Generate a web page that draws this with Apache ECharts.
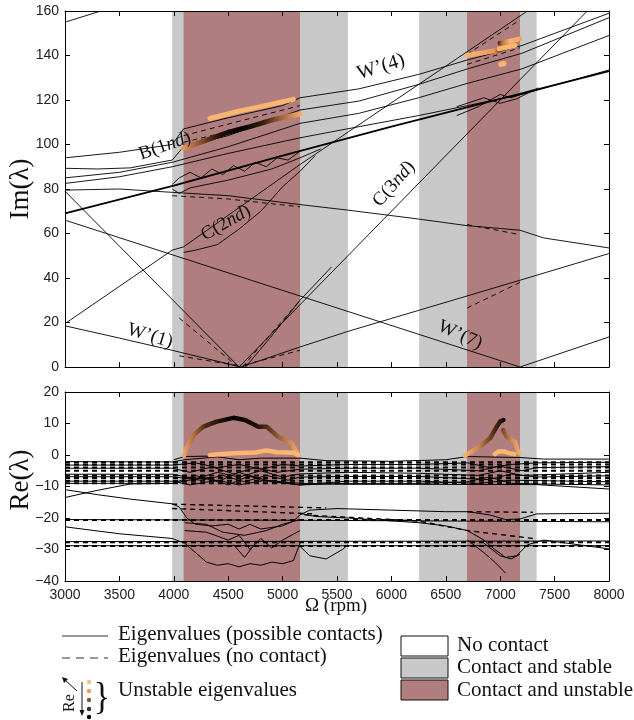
<!DOCTYPE html>
<html><head><meta charset="utf-8">
<script src="https://cdn.jsdelivr.net/npm/echarts@6/dist/echarts.min.js"></script>
<style>html,body{margin:0;padding:0;background:#fff}#c{width:634px;height:720px}</style>
</head><body><div id="c"></div>
<script>
// ---------- DATA ----------
const xTicks = [3000,3500,4000,4500,5000,5500,6000,6500,7000,7500,8000];
const grayRegions = [[3985,5600],[6255,7335]];
const redRegions  = [[4090,5160],[6695,7182]];

// Im(lambda) - solid (possible contacts)
const imTopLeft = [[3000,155],[3330,160]];
const imB1nd = [[3000,94],[3500,96.5],[3985,100],[4090,107],[4500,112],[5000,117.5],[5160,121],[5700,125],[6250,131.5],[6700,138],[7200,144.5],[8000,159]];
const imU2 = [[3000,89.3],[3300,89],[3600,89.5],[3985,93],[4090,99],[4500,104],[5160,115.5],[5700,119.5],[6250,127],[6700,134],[7200,141],[8000,157]];
const imU3 = [[3000,85],[3500,87.5],[3985,92],[4500,99],[5160,109.5],[5700,114],[6250,121],[6700,127.5],[7200,134],[8000,149]];
const imU4 = [[3000,82.5],[3500,85.5],[3985,90],[4500,96],[5160,103],[5700,108],[6250,113],[6700,117.5],[7200,122.5],[8000,133.5]];
const imThick = [[3000,69],[4000,81.5],[5000,95],[6000,108],[7000,120.5],[8000,133]];
const imFlat = [[3000,79.5],[3500,80],[3985,78.5],[4500,77],[5160,73],[5600,70.5],[6250,66.5],[6700,63.5],[7180,61.5],[7400,58],[8000,53.5]];
const imC3ndDown = [[3000,79],[4600,0]];
const imC3nd = [[4600,0],[7800,160]];
const imC2nd = [[3000,19.5],[3985,52.5],[4090,54],[5160,91],[7250,160]];
const imW7 = [[3000,66],[7182,0],[8000,13.5]];
const imW1 = [[3000,18.5],[3500,13],[3985,7.5],[4620,0],[5160,9],[5600,16],[7182,39],[8000,51]];
const imWig1 = [[3985,82],[4050,85],[4150,87.5],[4250,85],[4350,89],[4450,86.5],[4550,90.5],[4650,88],[4750,92],[4850,90],[4950,94],[5050,93],[5160,97]];
const imWig2 = [[3985,80],[4050,78],[4150,80.5],[4300,82],[4500,84],[4700,86.5],[4900,89],[5160,94],[5350,98]];
const imC2ndSolid = [[4090,51.5],[4200,52.5],[4400,55],[4600,62],[4800,70],[5000,81],[5160,88],[5300,95]];
const imVsolid = [[4660,0],[4900,14],[5160,30],[5450,45]];
const imKnot1 = [[6600,113],[6800,117],[7000,122.5],[7100,121],[7300,124.5]];
const imKnot2 = [[6600,117],[6850,121],[7000,118.5],[7150,120.5],[7350,125.5]];
const imSolid = [imTopLeft, imB1nd, imU2, imU3, imU4, imFlat, imC3ndDown, imC3nd, imC2nd, imW7, imW1, imWig1, imWig2, imC2ndSolid, imVsolid, imKnot1, imKnot2];

// Im(lambda) - dashed (no contact)
const imD1 = [[4090,104],[5160,117.5]];
const imD2 = [[4090,101],[5160,113.5]];
const imD3 = [[3985,77],[4500,75.5],[5160,72]];
const imD4 = [[4050,22],[4590,0]];
const imD5 = [[4630,0],[5160,30]];
const imD6 = [[4050,5],[4600,0.5]];
const imD7 = [[4650,1],[5160,7.5]];
const imD8 = [[6695,140.5],[7182,156]];
const imD9 = [[6695,64],[7182,59.5]];
const imD10 = [[6695,26.5],[7182,38]];
const imD11 = [[6695,136],[7182,143.5]];
const imDashed = [imD1, imD2, imD3, imD4, imD5, imD6, imD7, imD8, imD9, imD10, imD11];

// Im(lambda) - unstable eigenvalues
const imUnst1 = [[4333,111.7],[4600,115],[4800,117],[5098,120.3]];
const imUnst2 = [[4087,98.3],[4300,102],[4500,105.5],[4700,108],[4900,111],[5160,113.7]];
const imUnst3 = [[6695,140],[6850,141.3],[6990,142.5]];
const imUnst4 = [[7000,145.5],[7100,146.5],[7180,147.5]];
const imUnst5 = [[6990,143],[7135,144.5]];
const imUnst6 = [[7005,136],[7035,136.4]];

// Re(lambda) - solid
const reS1 = [[3000,-2.1],[3985,-2.2],[4100,-1.5],[4400,-0.6],[4600,-1.5],[4800,-1],[5160,-1],[5400,-1.8],[6000,-2],[6500,-1.5],[6700,-0.5],[7182,-0.8],[7400,-1.3],[8000,-1.3]];
const reS2 = [[3000,-3.2],[3985,-3.2],[4200,-2.5],[4400,-4],[4600,-3],[4800,-4.5],[5000,-3],[5160,-3.5],[5600,-3],[6255,-3],[6700,-2.5],[6900,-4],[7100,-3],[7335,-2.5],[8000,-2.3]];
const reS3 = [[3000,-4.2],[3985,-4.2],[4150,-5.5],[4350,-3.8],[4550,-6],[4750,-4],[4950,-5.5],[5160,-4.5],[5600,-4.2],[6255,-4.2],[6800,-5],[7000,-3.5],[7200,-5],[7335,-4],[8000,-3.7]];
const reS4 = [[3000,-6.1],[3985,-6.1],[4200,-7.5],[4400,-5.5],[4600,-7],[4800,-5],[5000,-7],[5160,-6],[5600,-5.5],[6255,-5.8],[6800,-6.5],[7000,-5],[7200,-6.5],[8000,-5.5]];
const reS5 = [[3000,-6.9],[3985,-6.9],[4250,-8],[4450,-6.5],[4650,-8.5],[4850,-6.5],[5050,-8],[5160,-7],[5600,-6.8],[6255,-6.8],[6900,-7.8],[7100,-6],[7335,-7],[8000,-6.6]];
const reS6 = [[3000,-8.3],[3985,-8.3],[4150,-9.5],[4400,-8],[4600,-9.5],[4850,-8],[5160,-9.5],[5600,-8.3],[6255,-8.3],[6800,-9],[7100,-8],[8000,-8.5]];
const reS7 = [[3000,-9],[3985,-9],[4300,-7],[4500,-9.5],[4700,-6.5],[4900,-8.5],[5160,-9.5],[5600,-9],[6255,-9],[6700,-8.5],[6900,-7],[7100,-9],[7335,-9.2],[8000,-9.5]];
const reS8 = [[3000,-13.5],[3300,-11.2],[3600,-9.2],[3985,-9],[4200,-6.5],[4400,-8.5],[4600,-5.5],[4800,-8],[5160,-9],[5600,-9.3],[6255,-9.3],[7335,-9.4],[8000,-10.8]];
const reS9 = [[3000,-11],[3300,-12.6],[3600,-14],[3985,-15.5],[4050,-16.5],[4120,-20],[4200,-22],[4350,-22.5],[4500,-22],[4600,-23.5],[4700,-22],[4800,-23.5],[4900,-23],[5000,-22.5],[5100,-21],[5160,-19],[5250,-17.5],[5500,-17],[6000,-17.5],[6500,-18],[6700,-18],[6900,-19],[7050,-20.5],[7182,-20.3],[7335,-18.7],[8000,-18.5]];
const reS10 = [[3000,-20.5],[5000,-20.7],[8000,-21.2]];
const reS11 = [[3000,-22.8],[3500,-25],[3985,-26.5],[4100,-28],[4200,-31],[4300,-34],[4400,-35],[4500,-34.5],[4600,-35.5],[4700,-34.5],[4800,-35],[4900,-34],[5000,-34.5],[5100,-33.5],[5160,-28]];
const reS12 = [[3000,-27.5],[8000,-27.3]];
const reS13 = [[3000,-28.8],[8000,-28.8]];
const reS14 = [[5160,-18.5],[5300,-19.5],[5600,-20],[6255,-21.5],[6500,-22.5],[6700,-24],[6850,-27],[6950,-30],[7050,-32.5],[7150,-32],[7250,-28.5],[7400,-27],[8000,-29.8]];
const reS15 = [[6700,-27],[6850,-31],[6950,-34],[7050,-37.5]];
const reS16 = [[6850,-28],[7000,-32],[7100,-33],[7182,-31.5]];
const reS17 = [[4100,-24],[4300,-24.5],[4500,-27],[4600,-25.5],[4700,-30],[4800,-26.5],[4900,-29.5],[5000,-27],[5160,-24]];
const reS18 = [[4100,-21.5],[4300,-22],[4450,-24.5],[4650,-25.5],[4850,-24],[5000,-22],[5160,-20.5]];
const reS19 = [[4550,-28.5],[4650,-32.5],[4750,-28]];
const reS20 = [[5160,-29],[5250,-32],[5400,-33],[5550,-30],[5600,-28.5]];
const reS21 = [[4000,-1.5],[4100,-0.5],[4400,-0.3]];
const reSolid = [reS1,reS2,reS3,reS4,reS5,reS6,reS7,reS8,reS9,reS10,reS11,reS12,reS13,reS14,reS15,reS16,reS17,reS18,reS19,reS20,reS21];

// Re(lambda) - dashed
const reDashLevels = [-2.3,-3.0,-4.0,-5.0,-6.5,-7.3,-8.2,-9.0,-20.6,-27.7,-28.9];
const reD1 = [[3985,-15.6],[5400,-16.8]];
const reD2 = [[3985,-17],[5300,-18.7]];
const reD3 = [[5200,-19],[6255,-21],[6700,-24],[7300,-26.5]];
const reD4 = [[6700,-18],[7300,-18.2]];
const reDashed = [reD1,reD2,reD3,reD4];

// Re(lambda) - unstable eigenvalues
const reUnst1 = [[4094,-0.2],[4118,2.1],[4180,6.3],[4271,9],[4394,10.6],[4547,11.8],[4654,11.1],[4777,9],[4853,9],[4960,5.8],[5083,3.7],[5144,0]];
const reUnst2 = [[4330,0],[4450,0.3],[4600,0.6],[4750,0.8],[4850,1.4],[4950,0.9],[5100,0.7],[5140,0]];
const reUnst3 = [[6676,-0.2],[6814,2.7],[6906,5.3],[6968,9],[6998,10.6],[7029,11.1]];
const reUnst4 = [[7029,7.9],[7060,5.8],[7136,4.2],[7157,1.6],[7176,0.5]];
const reUnst5 = [[6950,0.3],[6980,1],[7030,1.2],[7080,0.6],[7130,0.3]];

// ---------- CHART ----------
const chart = echarts.init(document.getElementById('c'), null, {renderer:'canvas'});
const SERIF = '"Liberation Serif","DejaVu Serif",serif';
const SANS = '"Liberation Sans",Arial,sans-serif';
const ORANGE = '#f9b671';
const G = echarts.graphic.LinearGradient;

function ln(pts, gi, o) {
  o = o || {};
  return {type:'line', xAxisIndex:gi, yAxisIndex:gi, data:pts, symbol:'none', silent:true, animation:false, z:o.z||3,
    lineStyle:{color:o.color||'#000', width:o.width||0.9, type:o.dash?[5,4]:'solid', cap:o.cap||'butt'}};
}
function grad(stops){ return new G(0,0,1,0, stops.map(s=>({offset:s[0], color:s[1]}))); }

const series = [];
[0,1].forEach(gi=>{
  series.push({type:'line', xAxisIndex:gi, yAxisIndex:gi, data:[], silent:true, z:1,
    markArea:{silent:true, itemStyle:{color:'#c8c8c8'}, data:grayRegions.map(r=>[{xAxis:r[0]},{xAxis:r[1]}])}});
  series.push({type:'line', xAxisIndex:gi, yAxisIndex:gi, data:[], silent:true, z:1,
    markArea:{silent:true, itemStyle:{color:'#b07e7e'}, data:redRegions.map(r=>[{xAxis:r[0]},{xAxis:r[1]}])}});
});
imSolid.forEach(p=>series.push(ln(p,0)));
series.push(ln(imThick,0,{width:1.8}));
imDashed.forEach(p=>series.push(ln(p,0,{dash:true})));
series.push(ln(imUnst1,0,{width:5,color:ORANGE,cap:'round',z:5}));
series.push(ln(imUnst2,0,{width:5,cap:'round',z:5,color:grad([[0,'#f0a060'],[0.12,'#a86238'],[0.3,'#2a1508'],[0.5,'#000'],[0.68,'#3a2010'],[0.85,'#b07040'],[1,'#f7ae66']])}));
series.push(ln(imUnst3,0,{width:5,cap:'round',z:5,color:grad([[0,ORANGE],[0.8,'#e89a5a'],[1,'#3a2010']])}));
series.push(ln(imUnst4,0,{width:5,cap:'round',z:5,color:grad([[0,'#3a2010'],[0.2,'#c07a45'],[0.5,ORANGE],[1,'#f0a060']])}));
series.push(ln(imUnst5,0,{width:5,cap:'round',z:5,color:ORANGE}));
series.push(ln(imUnst6,0,{width:5,cap:'round',z:5,color:ORANGE}));

reSolid.forEach(p=>series.push(ln(p,1,{width:1})));
reDashLevels.forEach(v=>series.push(ln([[3000,v],[8000,v]],1,{dash:true,width:2})));
reDashed.forEach(p=>series.push(ln(p,1,{dash:true,width:1.4})));
series.push(ln(reUnst1,1,{width:4.5,cap:'round',z:5,color:grad([[0,'#f8b270'],[0.08,'#c07a48'],[0.2,'#4a2a15'],[0.4,'#050200'],[0.62,'#1a0d05'],[0.75,'#6a3d20'],[0.88,'#c0804c'],[1,'#f8b270']])}));
series.push(ln(reUnst2,1,{width:4.5,cap:'round',z:5,color:ORANGE}));
series.push(ln(reUnst3,1,{width:4.5,cap:'round',z:5,color:grad([[0,ORANGE],[0.35,'#d08850'],[0.7,'#5a3418'],[1,'#000']])}));
series.push(ln(reUnst4,1,{width:4.5,cap:'round',z:5,color:grad([[0,'#6a3d20'],[0.5,'#d08850'],[1,ORANGE]])}));
series.push(ln(reUnst5,1,{width:4.5,cap:'round',z:5,color:ORANGE}));

function xAx(gi, pos, labels) {
  return {type:'value', gridIndex:gi, position:pos, min:3000, max:8000, interval:500, z:6,
    axisLine:{show:true, onZero:false, lineStyle:{color:'#000', width:1}},
    axisTick:{show:true, inside:true, length:5, lineStyle:{color:'#000'}},
    splitLine:{show:false},
    axisLabel:{show:labels, margin:7, color:'#222', fontFamily:SANS, fontSize:14, formatter: v => String(v)}};
}
function yAx(gi, pos, min, max, iv, labels) {
  return {type:'value', gridIndex:gi, position:pos, min:min, max:max, interval:iv, z:6,
    axisLine:{show:true, onZero:false, lineStyle:{color:'#000', width:1}},
    axisTick:{show:true, inside:true, length:5, lineStyle:{color:'#000'}},
    splitLine:{show:false},
    axisLabel:{show:labels, margin:6, color:'#222', fontFamily:SANS, fontSize:14,
      formatter: v => (v<0 ? '\u2212'+Math.abs(v) : String(v))}};
}

const graphic = [
  {type:'text', x:21, y:189, rotation:Math.PI/2, style:{text:'Im(λ)', font:'27px '+SERIF, fill:'#111', textAlign:'center', textVerticalAlign:'middle'}},
  {type:'text', x:21, y:480, rotation:Math.PI/2, style:{text:'Re(λ)', font:'27px '+SERIF, fill:'#111', textAlign:'center', textVerticalAlign:'middle'}},
  {type:'text', x:336, y:606, style:{text:'Ω (rpm)', font:'19px '+SERIF, fill:'#111', textAlign:'center', textVerticalAlign:'middle'}},
  {type:'text', x:165, y:146, rotation:0.34, z:20, style:{rich:{a:{font:'19px '+SERIF,fill:'#111'},i:{font:'italic 19px '+SERIF,fill:'#111'}}, text:'{a|B(1}{i|nd}{a|)}', textAlign:'center', textVerticalAlign:'middle'}},
  {type:'text', x:226, y:223, rotation:0.52, z:20, style:{rich:{a:{font:'19px '+SERIF,fill:'#111'},i:{font:'italic 19px '+SERIF,fill:'#111'}}, text:'{a|C(2}{i|nd}{a|)}', textAlign:'center', textVerticalAlign:'middle'}},
  {type:'text', x:394, y:184, rotation:0.85, z:20, style:{rich:{a:{font:'19px '+SERIF,fill:'#111'},i:{font:'italic 19px '+SERIF,fill:'#111'}}, text:'{a|C(3}{i|nd}{a|)}', textAlign:'center', textVerticalAlign:'middle'}},
  {type:'text', x:381, y:67, rotation:0.3, z:20, style:{text:'W’(4)', font:'20px '+SERIF, fill:'#111', textAlign:'center', textVerticalAlign:'middle'}},
  {type:'text', x:150, y:336, rotation:-0.3, z:20, style:{text:'W’(1)', font:'19px '+SERIF, fill:'#111', textAlign:'center', textVerticalAlign:'middle'}},
  {type:'text', x:460, y:335, rotation:-0.42, z:20, style:{text:'W’(7)', font:'19px '+SERIF, fill:'#111', textAlign:'center', textVerticalAlign:'middle'}},
  // legend left
  {type:'line', shape:{x1:62,y1:636,x2:108,y2:636}, style:{stroke:'#333', lineWidth:1}},
  {type:'line', shape:{x1:62,y1:658,x2:108,y2:658}, style:{stroke:'#333', lineWidth:1, lineDash:[8,6]}},
  {type:'text', x:118, y:634, style:{text:'Eigenvalues (possible contacts)', font:'21px '+SERIF, fill:'#111', textVerticalAlign:'middle'}},
  {type:'text', x:118, y:656, style:{text:'Eigenvalues (no contact)', font:'21px '+SERIF, fill:'#111', textVerticalAlign:'middle'}},
  {type:'text', x:118, y:690, style:{text:'Unstable eigenvalues', font:'21px '+SERIF, fill:'#111', textVerticalAlign:'middle'}},
  {type:'text', x:102, y:699, scaleY:1.1, style:{text:'}', font:'34px '+SERIF, fill:'#111', textAlign:'center', textVerticalAlign:'middle'}},
  {type:'circle', shape:{cx:89,cy:682,r:2.2}, style:{fill:'#fbc07a'}},
  {type:'circle', shape:{cx:89,cy:691,r:2.2}, style:{fill:'#ec9a5a'}},
  {type:'circle', shape:{cx:89,cy:700,r:2.2}, style:{fill:'#8a5535'}},
  {type:'circle', shape:{cx:89,cy:709,r:2.2}, style:{fill:'#4a2a18'}},
  {type:'circle', shape:{cx:89,cy:717,r:2.2}, style:{fill:'#000'}},
  {type:'line', shape:{x1:82,y1:682,x2:82,y2:713}, style:{stroke:'#111', lineWidth:1}},
  {type:'polygon', shape:{points:[[79.5,710],[84.5,710],[82,716]]}, style:{fill:'#111'}},
  {type:'line', shape:{x1:77,y1:691,x2:64,y2:679}, style:{stroke:'#111', lineWidth:1}},
  {type:'polygon', shape:{points:[[62,677],[68,679],[64,683]]}, style:{fill:'#111'}},
  {type:'text', x:70, y:703, rotation:Math.PI/2, style:{text:'Re', font:'16px '+SERIF, fill:'#111', textAlign:'center', textVerticalAlign:'middle'}},
  // legend right
  {type:'rect', shape:{x:401,y:636,width:47,height:20}, style:{fill:'#fff', stroke:'#111', lineWidth:1}},
  {type:'rect', shape:{x:401,y:658,width:47,height:20}, style:{fill:'#c8c8c8', stroke:'#111', lineWidth:1}},
  {type:'rect', shape:{x:401,y:680,width:47,height:20}, style:{fill:'#b07e7e', stroke:'#111', lineWidth:1}},
  {type:'text', x:457, y:645, style:{text:'No contact', font:'21px '+SERIF, fill:'#111', textVerticalAlign:'middle'}},
  {type:'text', x:457, y:667, style:{text:'Contact and stable', font:'21px '+SERIF, fill:'#111', textVerticalAlign:'middle'}},
  {type:'text', x:457, y:690, style:{text:'Contact and unstable', font:'21px '+SERIF, fill:'#111', textVerticalAlign:'middle'}}
];

chart.setOption({
  animation:false,
  backgroundColor:'#fff',
  grid:[{left:65, top:11, width:544, height:356}, {left:65, top:392, width:544, height:189}],
  xAxis:[xAx(0,'bottom',false), xAx(0,'top',false), xAx(1,'bottom',true), xAx(1,'top',false)].map((a,i)=>Object.assign(a,{gridIndex: i<2?0:1})),
  yAxis:[yAx(0,'left',0,160,20,true), yAx(0,'right',0,160,20,false), yAx(1,'left',-40,20,10,true), yAx(1,'right',-40,20,10,false)].map((a,i)=>Object.assign(a,{gridIndex: i<2?0:1})),
  series: series.map(s=>Object.assign(s,{xAxisIndex: s.xAxisIndex===0?0:2, yAxisIndex: s.yAxisIndex===0?0:2})),
  graphic: graphic
});
</script></body></html>
